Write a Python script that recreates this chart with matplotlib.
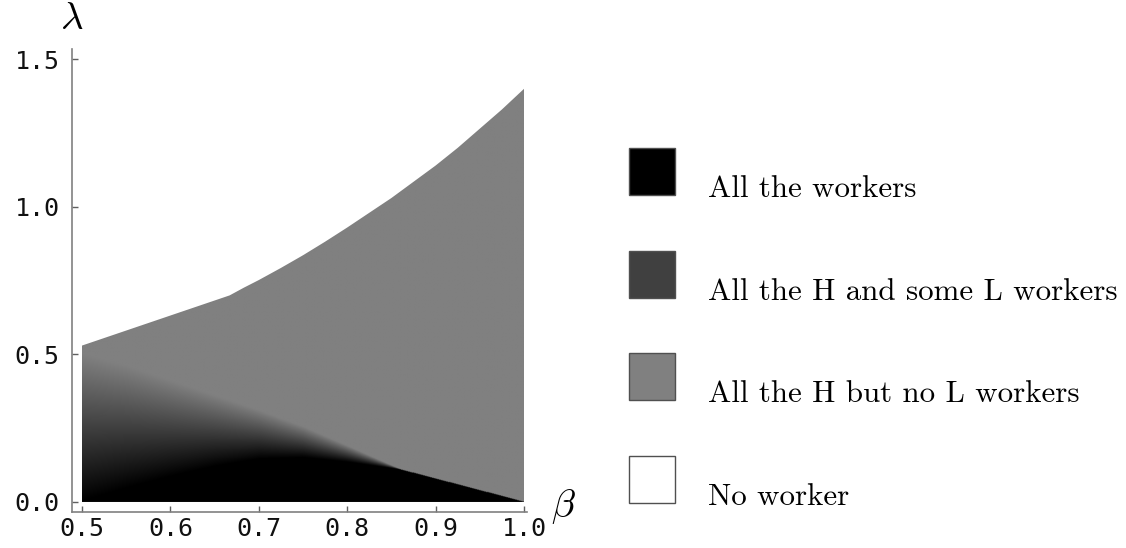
import numpy as np
import matplotlib
matplotlib.use("Agg")
import matplotlib.pyplot as plt
from matplotlib.patches import Polygon, Rectangle

plt.rcParams['mathtext.fontset'] = 'cm'

# ---- data ----
# outer (upper) boundary of the hiring region
top_beta = [0.5, 0.667, 0.683, 0.70, 0.725, 0.75, 0.775, 0.80, 0.825, 0.85,
            0.875, 0.90, 0.925, 0.95, 0.975, 1.0]
top_lam = [0.53, 0.70, 0.726, 0.752, 0.793, 0.836, 0.882, 0.93, 0.98, 1.03,
           1.085, 1.14, 1.20, 1.265, 1.33, 1.40]
# lower (black) and upper (gray) edge of the mixed region
mix_beta = [0.5, 0.55, 0.6, 0.65, 0.7, 0.75, 0.8, 0.86, 0.93, 1.0]
black_lam = [0.0, 0.045, 0.085, 0.12, 0.145, 0.15, 0.135, 0.11, 0.055, 0.0]
gray_lam = [0.50, 0.46, 0.41, 0.36, 0.31, 0.255, 0.19, 0.11, 0.055, 0.0]

x_ticks = [0.5, 0.6, 0.7, 0.8, 0.9, 1.0]
y_ticks = [0.0, 0.5, 1.0, 1.5]

legend_labels = ["All the workers", "All the H and some L workers",
                 "All the H but no L workers", "No worker"]
legend_colors = ["#000000", "#404040", "#808080", "#ffffff"]

# ---- figure ----
fig = plt.figure(figsize=(11.26, 5.48), dpi=100)
ax = fig.add_axes([72 / 1126, 36.3 / 548, 455 / 1126, 462.4 / 548])
ax.set_xlim(0.4887, 1.0034)
ax.set_ylim(-0.033, 1.534)

# region polygon
poly_x = [top_beta[0]] + list(top_beta) + [top_beta[-1]]
poly_y = [0.0] + list(top_lam) + [0.0]
region = Polygon(np.column_stack([poly_x, poly_y]), closed=True,
                 facecolor="none", edgecolor="none")
ax.add_patch(region)

# shaded image of the region
nb, nl = 500, 900
bb = np.linspace(0.5, 1.0, nb)
ll = np.linspace(0.0, 1.45, nl)
B, Lm = np.meshgrid(bb, ll)
lo = np.interp(B, mix_beta, black_lam)
hi = np.interp(B, mix_beta, gray_lam)
den = np.where(hi - lo > 1e-6, hi - lo, 1e-6)
t = np.clip((Lm - lo) / den, 0, 1)
val = 0.5 * t
val = np.where(Lm <= lo, 0.0, val)
val = np.where(Lm >= hi, 0.5, val)
im = ax.imshow(val, origin="lower", extent=[0.5, 1.0, 0.0, 1.45],
               cmap="gray", vmin=0, vmax=1, aspect="auto",
               interpolation="bilinear", zorder=1)
im.set_clip_path(region)

# axes styling
for s in ["top", "right"]:
    ax.spines[s].set_visible(False)
for s in ["left", "bottom"]:
    ax.spines[s].set_color("#808080")
    ax.spines[s].set_linewidth(1.2)
ax.set_xticks(x_ticks)
ax.set_yticks(y_ticks)
ax.set_xticklabels([f"{v:.1f}" for v in x_ticks])
ax.set_yticklabels([f"{v:.1f}" for v in y_ticks])
ax.tick_params(direction="in", length=4, width=1, color="#606060",
               labelsize=18, labelcolor="#111111")
ax.tick_params(axis="y", pad=9)
ax.tick_params(axis="x", pad=4)
for lab in ax.get_xticklabels() + ax.get_yticklabels():
    lab.set_fontfamily("DejaVu Sans Mono")

fig.text(72 / 1126, 1 - 18 / 548, r"$\lambda$", fontsize=28,
         ha="center", va="center")
fig.text(563 / 1126, 1 - 507 / 548, r"$\beta$", fontsize=28,
         ha="center", va="center")

# legend
box_x0, box_w, box_h = 629.4, 46, 47
tops = [148, 250.8, 352.8, 455.6]
for lab, col, top in zip(legend_labels, legend_colors, tops):
    fig.patches.append(Rectangle((box_x0 / 1126, 1 - (top + box_h) / 548),
                                 box_w / 1126, box_h / 548,
                                 transform=fig.transFigure,
                                 facecolor=col, edgecolor="#505050",
                                 linewidth=1.0))
    fig.text(708 / 1126, 1 - (top + box_h + 2) / 548, lab,
             fontfamily="cmr10", fontsize=22.3, ha="left", va="baseline")

fig.savefig("out.png", dpi=100)
